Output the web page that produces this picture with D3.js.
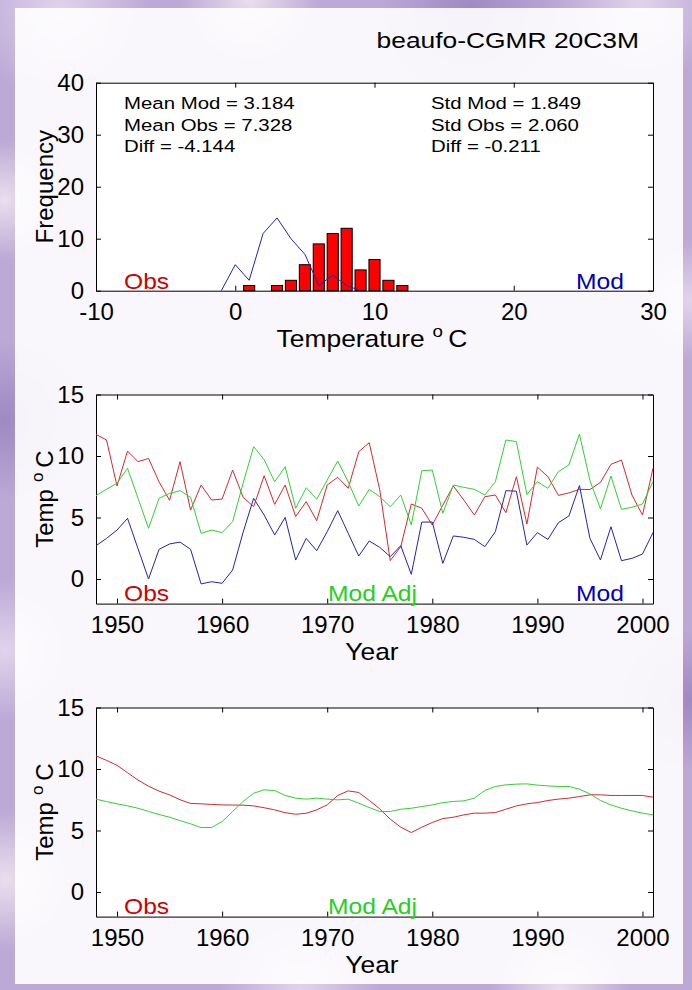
<!DOCTYPE html>
<html>
<head>
<meta charset="utf-8">
<script src="https://cdn.jsdelivr.net/npm/d3@7"></script>
<style>
  body { margin: 0; background: #c4b2da; }
  text { font-family: "Liberation Sans", Arial, sans-serif; }
</style>
</head>
<body>
<div id="chart"></div>
<script>
// ---- data ----
const title = "beaufo-CGMR 20C3M";
const statsLeft = ["Mean Mod = 3.184", "Mean Obs = 7.328", "Diff = -4.144"];
const statsRight = ["Std Mod = 1.849", "Std Obs = 2.060", "Diff = -0.211"];

const obsBins = [1, 3, 4, 5, 6, 7, 8, 9, 10, 11, 12];
const obsCounts = [1, 1, 2, 5, 9, 11, 12, 4, 6, 2, 1];
const modBins = [-1, 0, 1, 2, 3, 4, 5, 6, 7, 8, 9];
const modCounts = [0, 5, 2, 11, 14, 10, 7, 1, 3, 1, 0];

const years = [1948, 1949, 1950, 1951, 1952, 1953, 1954, 1955, 1956, 1957,
  1958, 1959, 1960, 1961, 1962, 1963, 1964, 1965, 1966, 1967,
  1968, 1969, 1970, 1971, 1972, 1973, 1974, 1975, 1976, 1977,
  1978, 1979, 1980, 1981, 1982, 1983, 1984, 1985, 1986, 1987,
  1988, 1989, 1990, 1991, 1992, 1993, 1994, 1995, 1996, 1997,
  1998, 1999, 2000, 2001];

const obs = [11.76, 11.3, 7.56, 10.4, 9.54, 9.8, 7.9, 6.4, 9.54, 5.6,
  7.64, 6.42, 6.5, 8.86, 6.64, 5.88, 8.4, 6.07, 7.64, 5.07,
  6.29, 4.74, 7.64, 8.27, 7.37, 10.35, 11.08, 7.24, 1.49, 2.63,
  6.1, 5.75, 4.39, 6.0, 7.56, 6.42, 5.2, 6.69, 6.83, 5.39,
  8.32, 4.47, 9.1, 8.32, 6.8, 7.0, 7.29, 7.27, 7.85, 9.32,
  9.67, 6.83, 5.2, 9.0];

const modAdj = [6.78, 7.3, 7.78, 9.0, 6.56, 4.12, 6.56, 6.96, 7.18, 6.64,
  3.71, 3.98, 3.77, 4.66, 7.8, 10.76, 9.7, 7.9, 9.13, 5.75,
  7.42, 6.48, 8.05, 9.59, 7.9, 5.93, 7.29, 6.69, 5.88, 6.83,
  4.39, 8.8, 8.86, 5.34, 7.64, 7.45, 7.29, 6.83, 7.91, 11.3,
  11.17, 6.87, 7.91, 7.37, 8.73, 9.27, 11.79, 8.0, 5.7, 8.37,
  5.66, 5.83, 6.1, 7.91];

const mod = [2.71, 3.3, 3.98, 4.93, 2.46, 0.0, 2.41, 2.85, 3.0, 2.41,
  -0.4, -0.22, -0.35, 0.73, 3.8, 6.56, 5.2, 3.58, 5.01, 1.54,
  3.3, 2.3, 3.85, 5.56, 3.71, 1.87, 3.09, 2.57, 1.82, 2.71,
  0.38, 4.63, 4.63, 1.27, 3.5, 3.39, 3.22, 2.63, 3.85, 7.18,
  7.14, 2.76, 3.77, 3.22, 4.58, 5.12, 7.6, 3.3, 1.55, 4.25,
  1.49, 1.68, 2.03, 3.77];

const obsSmooth = [11.07, 10.7, 10.3, 9.7, 9.1, 8.6, 8.2, 7.9, 7.5, 7.2,
  7.17, 7.12, 7.08, 7.07, 7.06, 7.0, 6.85, 6.68, 6.45, 6.32,
  6.4, 6.68, 7.08, 7.85, 8.22, 8.09, 7.45, 6.76, 5.92, 5.27,
  4.83, 5.27, 5.65, 5.97, 6.08, 6.27, 6.41, 6.41, 6.46, 6.73,
  7.0, 7.17, 7.27, 7.44, 7.55, 7.63, 7.76, 7.9, 7.9, 7.85,
  7.85, 7.85, 7.85, 7.71];

const modAdjSmooth = [7.55, 7.35, 7.17, 7.0, 6.81, 6.55, 6.3, 6.08, 5.8, 5.54,
  5.24, 5.24, 5.73, 6.54, 7.36, 8.03, 8.31, 8.25, 7.85, 7.63,
  7.55, 7.63, 7.55, 7.49, 7.55, 7.22, 6.87, 6.54, 6.54, 6.73,
  6.81, 6.95, 7.08, 7.27, 7.36, 7.41, 7.63, 8.25, 8.58, 8.71,
  8.77, 8.79, 8.69, 8.63, 8.58, 8.58, 8.36, 7.98, 7.44, 7.08,
  6.81, 6.6, 6.41, 6.27];

const histXTicks = [-10, 0, 10, 20, 30];
const histYTicks = [0, 10, 20, 30, 40];
const yearTicks = [1950, 1960, 1970, 1980, 1990, 2000];
const tempTicks = [0, 5, 10, 15];

// ---- layout ----
const W = 692, H = 990;
const left = 96, right = 653;
const red = "#d42a2a", green = "#33d033", blue = "#2424a8";

const svg = d3.select("#chart").append("svg")
    .attr("width", W)
    .attr("height", H);

// purple cloudy backdrop
const defs = svg.append("defs");
const blobs = [
  {id: "b1", c: "#e6d8ee"}, {id: "b2", c: "#9c86c0"}, {id: "b3", c: "#f0e4f0"}
];
blobs.forEach(b => {
  const g = defs.append("radialGradient").attr("id", b.id);
  g.append("stop").attr("offset", "0%").attr("stop-color", b.c).attr("stop-opacity", 0.9);
  g.append("stop").attr("offset", "100%").attr("stop-color", b.c).attr("stop-opacity", 0);
});
svg.append("rect").attr("width", W).attr("height", H).attr("fill", "#bca9d6");
[[60, 10, 90, "b1"], [250, 0, 70, "b3"], [470, 8, 90, "b2"], [640, 5, 80, "b1"],
 [5, 200, 60, "b3"], [5, 420, 80, "b2"], [5, 650, 70, "b1"], [5, 880, 70, "b3"],
 [690, 300, 60, "b1"], [690, 700, 70, "b2"], [300, 990, 80, "b1"], [560, 990, 70, "b3"]]
  .forEach(([cx, cy, r, id]) => svg.append("circle")
    .attr("cx", cx).attr("cy", cy).attr("r", r).attr("fill", `url(#${id})`));

svg.append("rect")
    .attr("x", 15).attr("y", 8)
    .attr("width", 668).attr("height", 976)
    .attr("fill", "#ffffff").attr("fill-opacity", 0.9);

function stretchedText(g, x, y, str, size, anchor, color, sx) {
  return g.append("text")
      .attr("transform", `translate(${x},${y}) scale(${sx || 1.2},1)`)
      .attr("text-anchor", anchor || "start")
      .attr("font-size", size)
      .attr("fill", color || "#000")
      .text(str);
}

// draws a boxed MATLAB-style axes with inward ticks on all sides
function makeAxes(top, bottom, xDomain, yDomain, xTicks, yTicks) {
  const x = d3.scaleLinear().domain(xDomain).range([left, right]);
  const y = d3.scaleLinear().domain(yDomain).range([bottom, top]);

  svg.append("rect")
      .attr("x", left).attr("y", top)
      .attr("width", right - left).attr("height", bottom - top)
      .attr("fill", "#fff");

  const fmt = d => String(d);
  const styleAxis = g => {
    g.attr("font-family", null).attr("font-size", 24);
    g.selectAll("text").attr("fill", "#000");
    g.selectAll("path,line").attr("stroke", "#000");
  };

  svg.append("g").attr("transform", `translate(0,${bottom})`)
      .call(d3.axisBottom(x).tickValues(xTicks).tickFormat(fmt)
        .tickSizeInner(-5).tickSizeOuter(0).tickPadding(12))
      .call(styleAxis);
  svg.append("g").attr("transform", `translate(0,${top})`)
      .call(d3.axisTop(x).tickValues(xTicks).tickFormat("")
        .tickSizeInner(-5).tickSizeOuter(0))
      .call(styleAxis);
  svg.append("g").attr("transform", `translate(${left},0)`)
      .call(d3.axisLeft(y).tickValues(yTicks).tickFormat(fmt)
        .tickSizeInner(-5).tickSizeOuter(0).tickPadding(12))
      .call(styleAxis);
  svg.append("g").attr("transform", `translate(${right},0)`)
      .call(d3.axisRight(y).tickValues(yTicks).tickFormat("")
        .tickSizeInner(-5).tickSizeOuter(0))
      .call(styleAxis);

  return {x, y};
}

// text with a raised "o" before the C, as in the reference
function degreeLabel(t, main) {
  t.append("tspan").text(main);
  t.append("tspan").attr("dx", 7).attr("dy", -10).attr("font-size", 17).text("o");
  t.append("tspan").attr("dx", 5).attr("dy", 10).text("C");
}

function yLabel(top, bottom, main) {
  const t = svg.append("text")
      .attr("transform", `translate(53,${(top + bottom) / 2}) rotate(-90)`)
      .attr("text-anchor", "middle")
      .attr("font-size", 24);
  if (main === "Temp") degreeLabel(t, main);
  else t.text(main);
}

function xLabel(bottom, main) {
  const t = svg.append("text")
      .attr("transform", `translate(372,${bottom + 56}) scale(1.1,1)`)
      .attr("text-anchor", "middle")
      .attr("font-size", 24);
  if (main === "Temperature") degreeLabel(t, main);
  else t.text(main);
}

// ---- title ----
stretchedText(svg, 639, 48, title, 22, "end");

// ---- panel 1: histogram ----
const p1 = makeAxes(82.7, 290.7, [-10, 30], [0, 40], histXTicks, histYTicks);

svg.append("g").selectAll("rect")
  .data(obsBins)
  .enter().append("rect")
    .attr("x", d => p1.x(d - 0.4))
    .attr("y", (d, i) => p1.y(obsCounts[i]))
    .attr("width", p1.x(0.8) - p1.x(0))
    .attr("height", (d, i) => p1.y(0) - p1.y(obsCounts[i]))
    .attr("fill", "#ff0000")
    .attr("stroke", "#000")
    .attr("stroke-width", 1);

svg.append("path")
    .datum(modBins)
    .attr("fill", "none")
    .attr("stroke", blue)
    .attr("stroke-width", 1)
    .attr("d", d3.line().x(d => p1.x(d)).y((d, i) => p1.y(modCounts[i])));

statsLeft.forEach((s, i) => stretchedText(svg, 124, 109 + i * 21.5, s, 17));
statsRight.forEach((s, i) => stretchedText(svg, 431, 109 + i * 21.5, s, 17));

stretchedText(svg, 124, 289, "Obs", 22, "start", "#d00000", 1.12);
stretchedText(svg, 576, 289, "Mod", 22, "start", "#0000b8", 1.12);

yLabel(82.7, 290.7, "Frequency");
xLabel(290.7, "Temperature");

// ---- panel 2: yearly series ----
const p2 = makeAxes(394.5, 603.6, [1948, 2001], [-2, 15], yearTicks, tempTicks);
const line2 = vals => d3.line().x(d => p2.x(d)).y((d, i) => p2.y(vals[i]));

[[obs, red], [modAdj, green], [mod, blue]].forEach(([vals, c]) => {
  svg.append("path")
      .datum(years)
      .attr("fill", "none")
      .attr("stroke", c)
      .attr("stroke-width", 1)
      .attr("d", line2(vals));
});

stretchedText(svg, 124, 601, "Obs", 22, "start", "#d00000", 1.12);
stretchedText(svg, 328, 601, "Mod Adj", 22, "start", "#22d022", 1.12);
stretchedText(svg, 576, 601, "Mod", 22, "start", "#0000b8", 1.12);
yLabel(394.5, 603.6, "Temp");
xLabel(603.6, "Year");

// ---- panel 3: smoothed series ----
const p3 = makeAxes(707.5, 916.6, [1948, 2001], [-2, 15], yearTicks, tempTicks);
const line3 = vals => d3.line().x(d => p3.x(d)).y((d, i) => p3.y(vals[i]));

[[obsSmooth, red], [modAdjSmooth, green]].forEach(([vals, c]) => {
  svg.append("path")
      .datum(years)
      .attr("fill", "none")
      .attr("stroke", c)
      .attr("stroke-width", 1)
      .attr("d", line3(vals));
});

stretchedText(svg, 124, 914, "Obs", 22, "start", "#d00000", 1.12);
stretchedText(svg, 328, 914, "Mod Adj", 22, "start", "#22d022", 1.12);
yLabel(707.5, 916.6, "Temp");
xLabel(916.6, "Year");
</script>
</body>
</html>
